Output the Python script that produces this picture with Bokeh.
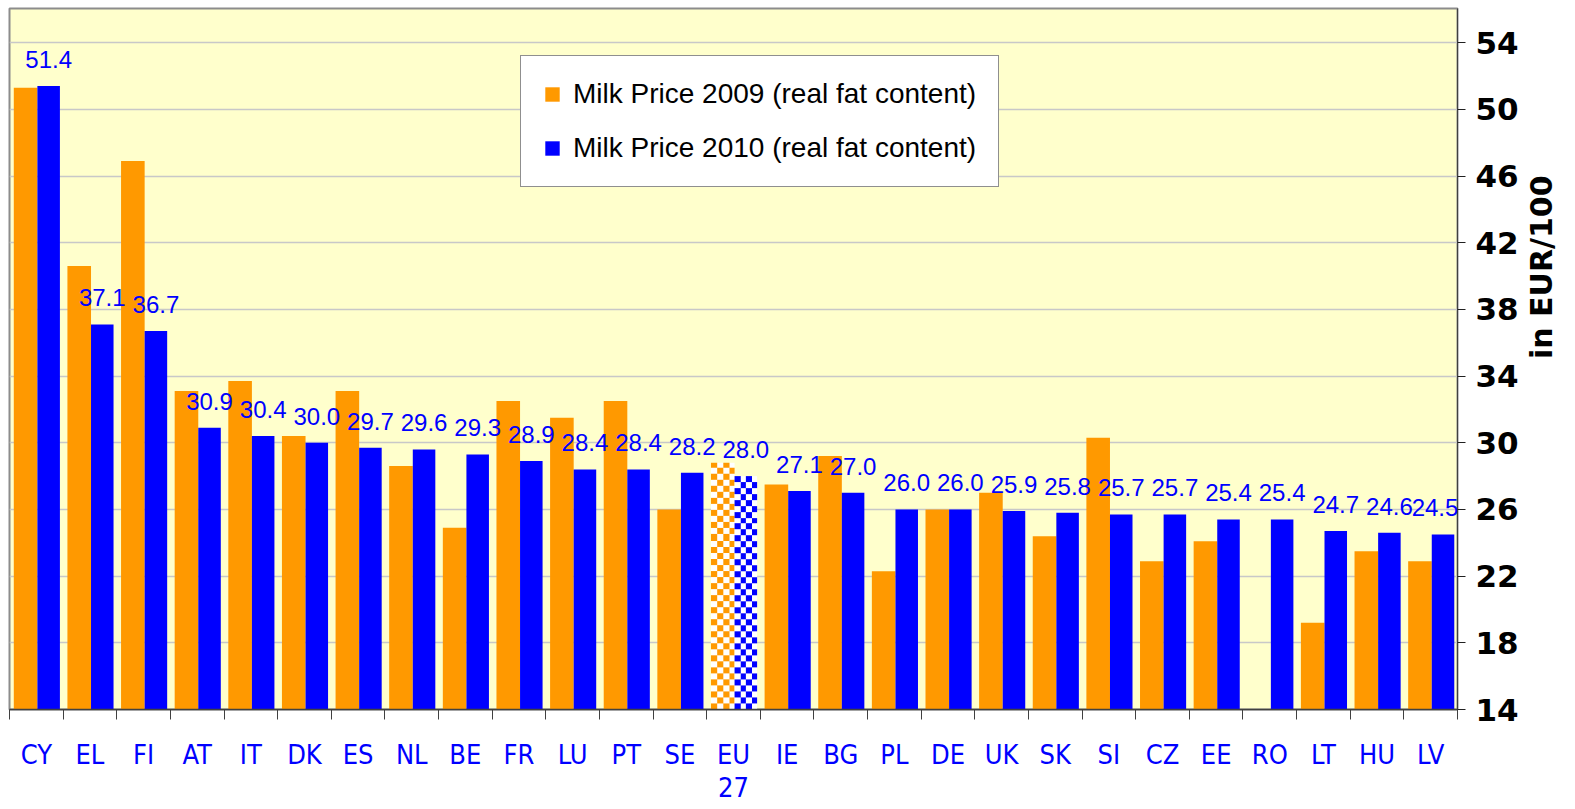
import math
import numpy as np
from bokeh.plotting import figure
from bokeh.models import (LinearAxis, FixedTicker, Range1d, Grid, Legend, LegendItem,
                          LabelSet, ColumnDataSource)
from bokeh.embed import file_html
from bokeh.resources import INLINE
from bokeh.core.properties import value

# ---------------- data ----------------
countries = ["CY", "EL", "FI", "AT", "IT", "DK", "ES", "NL", "BE", "FR", "LU", "PT", "SE",
             "EU", "IE", "BG", "PL", "DE", "UK", "SK", "SI", "CZ", "EE", "RO", "LT", "HU", "LV"]
country_second_line = {13: "27"}
price_2009 = [51.3, 40.6, 46.9, 33.1, 33.7, 30.4, 33.1, 28.6, 24.9, 32.5, 31.5, 32.5, 26.0,
              28.8, 27.5, 29.2, 22.3, 26.0, 27.0, 24.4, 30.3, 22.9, 24.1, None, 19.2, 23.5, 22.9]
price_2010 = [51.4, 37.1, 36.7, 30.9, 30.4, 30.0, 29.7, 29.6, 29.3, 28.9, 28.4, 28.4, 28.2,
              28.0, 27.1, 27.0, 26.0, 26.0, 25.9, 25.8, 25.7, 25.7, 25.4, 25.4, 24.7, 24.6, 24.5]
labels_2010 = ["51.4", "37.1", "36.7", "30.9", "30.4", "30.0", "29.7", "29.6", "29.3", "28.9",
               "28.4", "28.4", "28.2", "28.0", "27.1", "27.0", "26.0", "26.0", "25.9", "25.8",
               "25.7", "25.7", "25.4", "25.4", "24.7", "24.6", "24.5"]
y_ticks = [14, 18, 22, 26, 30, 34, 38, 42, 46, 50, 54]
eu_index = 13
series_names = ["Milk Price 2009 (real fat content)", "Milk Price 2010 (real fat content)"]
y_title = "in EUR/100"

# ---------------- style ----------------
ORANGE = "#FF9900"
BLUE = "#0000FF"
BG = "#FFFFCC"
Y0, Y1 = 14, 56.05
FRAME_W, FRAME_H = 1448, 701
OFF09, W09 = -0.20, 0.44
OFF10, W10 = 0.23, 0.42
NARROW = "'Liberation Sans Narrow', 'DejaVu Sans Condensed', sans-serif"

n = len(countries)
idx = list(range(n))
nan = float("nan")

top09 = [nan if (v is None or i == eu_index) else v for i, v in enumerate(price_2009)]
top10 = [nan if i == eu_index else v for i, v in enumerate(price_2010)]
# keep the last value label inside the plot frame (annotations are clipped to it)
label_dx = [0] * (n - 1) + [-8]

src = ColumnDataSource(dict(
    x09=[i + OFF09 for i in idx],
    x10=[i + OFF10 for i in idx],
    top09=top09,
    top10=top10,
    v10=price_2010,
    lab=labels_2010,
    dx=label_dx,
))

p = figure(frame_width=FRAME_W, frame_height=FRAME_H,
           x_range=Range1d(-0.5, n - 0.5), y_range=Range1d(Y0, Y1),
           x_axis_location=None, y_axis_location=None,
           output_backend="svg", toolbar_location=None,
           min_border_left=9, min_border_top=8, min_border_right=110, min_border_bottom=97,
           background_fill_color=BG, border_fill_color="white")
p.xgrid.grid_line_color = None
p.ygrid.grid_line_color = None
p.outline_line_color = "#8C8C8C"
p.outline_line_width = 2

p.add_layout(Grid(dimension=1, ticker=FixedTicker(ticks=y_ticks),
                  grid_line_color="#C8C8C8", grid_line_width=1.5))

r09 = p.vbar(x="x09", top="top09", bottom=Y0, width=W09, source=src,
             fill_color=ORANGE, line_color=None)
r10 = p.vbar(x="x10", top="top10", bottom=Y0, width=W10, source=src,
             fill_color=BLUE, line_color=None)


# checkered EU-27 bars (texture drawn as image, placed in data coordinates)
def checker(hex_color, v, width_units):
    px_per_unit = FRAME_H / (Y1 - Y0)
    cell = 6.0
    rows = max(1, int(round((v - Y0) * px_per_unit / cell)))
    cols = max(1, int(round(width_units * FRAME_W / n / cell)))
    r, g, b = int(hex_color[1:3], 16), int(hex_color[3:5], 16), int(hex_color[5:7], 16)
    img = np.zeros((rows, cols), dtype=np.uint32)
    view = img.view(dtype=np.uint8).reshape((rows, cols, 4))
    for rr in range(rows):
        for cc in range(cols):
            if (rows - 1 - rr + cc) % 2 == 0:
                view[rr, cc] = (r, g, b, 255)
            else:
                view[rr, cc] = (255, 255, 255, 255)
    return img


v09_eu = price_2009[eu_index]
v10_eu = price_2010[eu_index]
p.image_rgba(image=[checker(ORANGE, v09_eu, W09)], x=eu_index + OFF09 - W09 / 2, y=Y0,
             dw=W09, dh=v09_eu - Y0)
p.image_rgba(image=[checker(BLUE, v10_eu, W10)], x=eu_index + OFF10 - W10 / 2, y=Y0,
             dw=W10, dh=v10_eu - Y0)

# value labels above 2010 bars
p.add_layout(LabelSet(x="x10", y="v10", text="lab", source=src, text_align="center",
                      text_baseline="alphabetic", x_offset="dx", y_offset=18,
                      text_color=BLUE, text_font=value("Liberation Sans"),
                      text_font_size="24px"))

# right axis with its title
yaxis = LinearAxis(ticker=FixedTicker(ticks=y_ticks),
                   axis_line_color="#404040", axis_line_width=1,
                   major_tick_line_color="#202020", major_tick_out=8, major_tick_in=0,
                   minor_tick_line_color=None, major_label_standoff=10,
                   major_label_text_font="DejaVu Sans",
                   major_label_text_font_style="bold",
                   major_label_text_font_size="31px",
                   major_label_text_color="black",
                   axis_label=y_title, axis_label_standoff=20,
                   axis_label_text_font="DejaVu Sans",
                   axis_label_text_font_style="bold",
                   axis_label_text_font_size="30px",
                   axis_label_text_color="black")
try:
    # same visual rotation as pi/2 (reads bottom to top), anchored at the text end
    yaxis.axis_label_orientation = -1.5 * math.pi
except Exception:
    pass
p.add_layout(yaxis, "right")

# bottom axis: category names at centres, tick marks at category boundaries
boundaries = [i - 0.5 for i in range(n + 1)]
xaxis_names = LinearAxis(ticker=FixedTicker(ticks=idx, minor_ticks=boundaries),
                         major_label_overrides={i: c for i, c in enumerate(countries)},
                         axis_line_color="#404040", axis_line_width=1.5,
                         major_tick_line_color=None, major_tick_out=0, major_tick_in=0,
                         minor_tick_line_color="#404040", minor_tick_line_width=1,
                         minor_tick_out=10, minor_tick_in=0,
                         major_label_standoff=19,
                         major_label_text_font=NARROW,
                         major_label_text_font_size="27px",
                         major_label_text_color=BLUE)
p.add_layout(xaxis_names, "below")

xaxis_second = LinearAxis(ticker=FixedTicker(ticks=list(country_second_line.keys())),
                          major_label_overrides=country_second_line,
                          axis_line_color=None, major_tick_line_color=None,
                          major_tick_out=0, major_tick_in=0, minor_tick_line_color=None,
                          major_label_standoff=4,
                          major_label_text_font=NARROW,
                          major_label_text_font_size="27px",
                          major_label_text_color=BLUE)
p.add_layout(xaxis_second, "below")

legend = Legend(items=[LegendItem(label=series_names[0], renderers=[r09]),
                       LegendItem(label=series_names[1], renderers=[r10])],
                location=(511, 522), orientation="vertical",
                border_line_color="#202020", border_line_width=1.5,
                background_fill_color="white", background_fill_alpha=1,
                label_text_font="Liberation Sans", label_text_font_size="28px",
                label_text_color="black",
                glyph_width=18, glyph_height=18, label_height=26, label_standoff=12,
                spacing=22, padding=22, margin=0)
p.add_layout(legend)

open("out.html", "w").write(file_html(p, INLINE))
